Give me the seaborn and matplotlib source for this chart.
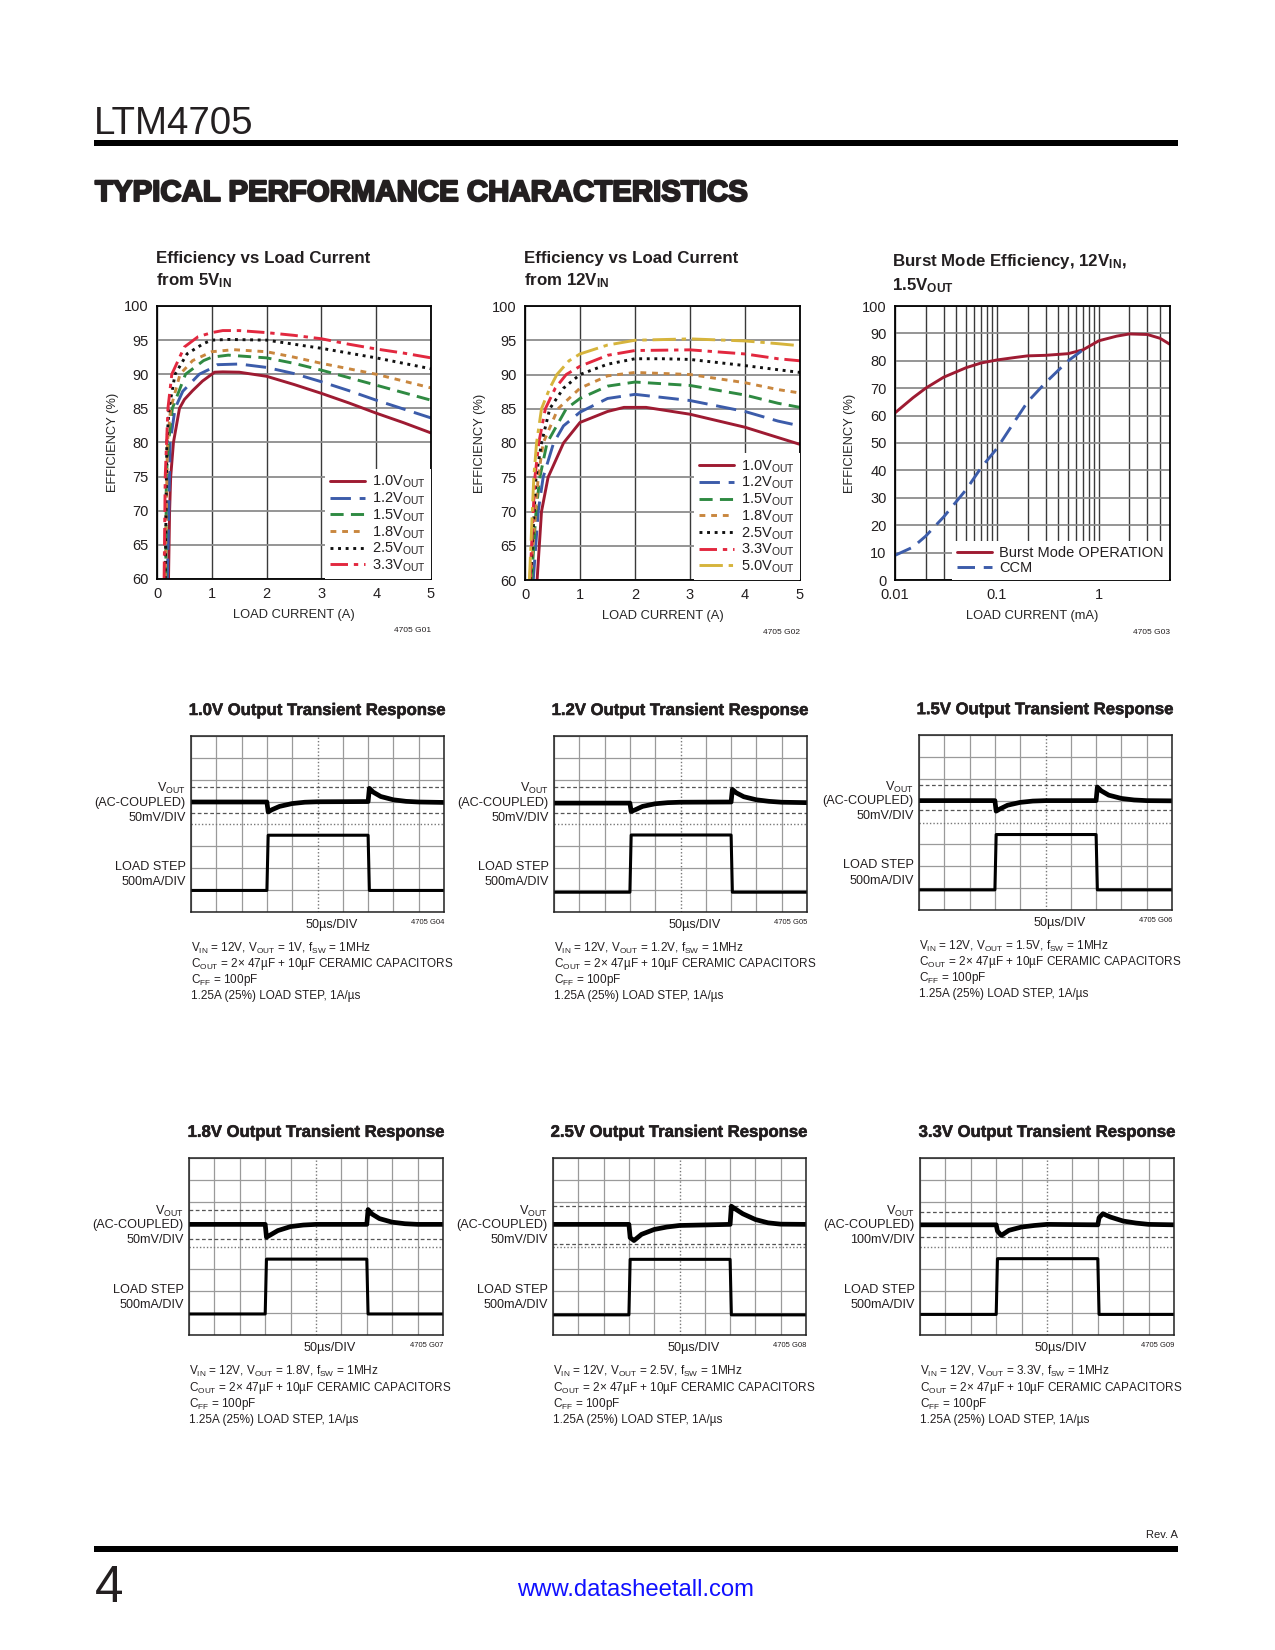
import matplotlib
matplotlib.use('Agg')
import matplotlib.pyplot as plt
import matplotlib.patheffects as pe
import seaborn as sns
from matplotlib import font_manager
from matplotlib.patches import Rectangle
from matplotlib.ticker import LogLocator, NullFormatter

# ---------------- data ----------------
# Efficiency vs load current, 5V in  (x = load current A, y = efficiency %)
e5_10_x = [0.21, 0.23, 0.25, 0.30, 0.41, 0.50, 0.65, 0.83, 1.0, 1.05, 1.2, 1.5, 2.0, 2.5, 3.0, 3.5, 4.0, 4.5, 5.0]
e5_10_y = [60, 70, 75, 80, 85, 86.3, 87.6, 89.0, 90.0, 90.3, 90.35, 90.3, 89.7, 88.5, 87.2, 85.8, 84.3, 82.9, 81.4]
e5_12_x = [0.19, 0.24, 0.33, 0.47, 0.77, 1.0, 1.1, 1.5, 2.0, 2.5, 3.0, 3.5, 4.0, 4.5, 5.0]
e5_12_y = [60, 80, 85, 87.5, 90, 90.9, 91.4, 91.5, 91.0, 90.1, 88.9, 87.6, 86.2, 84.9, 83.6]
e5_15_x = [0.16, 0.17, 0.21, 0.28, 0.52, 0.85, 1.0, 1.3, 2.0, 2.5, 3.0, 3.5, 4.0, 4.5, 5.0]
e5_15_y = [60, 75, 80, 85, 90, 92.0, 92.5, 92.8, 92.4, 91.6, 90.6, 89.5, 88.4, 87.3, 86.2]
e5_18_x = [0.15, 0.19, 0.25, 0.42, 0.65, 1.0, 1.4, 2.0, 2.5, 3.0, 3.5, 4.0, 4.5, 5.0]
e5_18_y = [60, 80, 85, 90, 92.0, 93.3, 93.6, 93.3, 92.5, 91.6, 90.8, 90.0, 89.0, 88.0]
e5_25_x = [0.15, 0.18, 0.22, 0.33, 0.55, 0.85, 1.0, 1.3, 2.0, 2.5, 3.0, 3.5, 4.0, 4.5, 5.0]
e5_25_y = [60, 80, 85, 90, 93.0, 94.5, 95.0, 95.1, 95.0, 94.4, 93.8, 93.1, 92.4, 91.6, 90.8]
e5_33_x = [0.13, 0.15, 0.20, 0.27, 0.50, 0.75, 1.0, 1.2, 1.5, 2.0, 2.5, 3.0, 3.5, 4.0, 4.5, 5.0]
e5_33_y = [60, 75, 85, 90, 94.0, 95.5, 96.1, 96.4, 96.4, 96.1, 95.7, 95.2, 94.4, 93.7, 93.1, 92.4]

# Efficiency vs load current, 12V in
e12_10_x = [0.22, 0.30, 0.42, 0.70, 0.95, 1.0, 1.5, 1.8, 2.2, 3.0, 4.0, 4.6, 5.0]
e12_10_y = [60, 70, 75, 80, 82.5, 83.0, 84.6, 85.2, 85.2, 84.2, 82.3, 80.8, 79.8]
e12_12_x = [0.15, 0.24, 0.33, 0.52, 0.70, 1.0, 1.5, 2.0, 3.0, 4.0, 4.6, 5.0]
e12_12_y = [60, 70, 75, 80, 82.5, 84.5, 86.5, 87.1, 86.2, 84.6, 83.2, 82.5]
e12_15_x = [0.12, 0.20, 0.27, 0.40, 0.75, 1.0, 1.5, 2.0, 3.0, 4.0, 4.6, 5.0]
e12_15_y = [60, 70, 75, 80, 85, 86.5, 88.3, 88.9, 88.4, 87.0, 85.8, 85.2]
e12_18_x = [0.10, 0.24, 0.33, 0.60, 1.0, 1.5, 2.0, 3.0, 4.0, 4.6, 5.0]
e12_18_y = [60, 75, 80, 85, 88.0, 89.8, 90.3, 90.0, 88.8, 87.8, 87.3]
e12_25_x = [0.10, 0.20, 0.30, 0.45, 0.70, 1.0, 1.5, 2.0, 2.5, 3.0, 4.0, 4.6, 5.0]
e12_25_y = [60, 75, 80, 85, 88.0, 90.0, 91.5, 92.3, 92.3, 92.2, 91.3, 90.7, 90.3]
e12_33_x = [0.09, 0.18, 0.25, 0.37, 0.55, 0.75, 1.0, 1.5, 2.0, 3.0, 4.0, 4.6, 5.0]
e12_33_y = [60, 75, 80, 85, 88.0, 90.0, 91.2, 92.8, 93.5, 93.6, 93.0, 92.3, 92.0]
e12_50_x = [0.08, 0.16, 0.21, 0.30, 0.45, 0.58, 0.80, 1.0, 1.5, 2.0, 3.0, 4.0, 4.6, 5.0]
e12_50_y = [60, 75, 80, 85, 88.0, 90.0, 92.0, 93.0, 94.3, 95.0, 95.2, 94.9, 94.5, 94.2]

eff_labels_5 = ['1.0', '1.2', '1.5', '1.8', '2.5', '3.3']
eff_labels_12 = ['1.0', '1.2', '1.5', '1.8', '2.5', '3.3', '5.0']

# Burst Mode efficiency, 12V in, 1.5V out (x = load current mA)
burst_x = [0.01, 0.015, 0.02, 0.03, 0.05, 0.07, 0.1, 0.15, 0.2, 0.3, 0.5, 0.7, 1.0, 1.5, 2.0, 3.0, 4.0, 5.0]
burst_y = [61, 66.5, 70, 74, 77.5, 79.2, 80.3, 81.2, 81.8, 82.0, 82.6, 84.0, 87.3, 89.0, 89.8, 89.6, 88.2, 86.0]
ccm_x = [0.01, 0.015, 0.02, 0.03, 0.05, 0.07, 0.1, 0.15, 0.2, 0.3, 0.5, 0.7]
ccm_y = [9, 12, 16, 23, 33, 41, 48, 58, 65, 72, 80, 84]

# Transient response scope traces (x, y in screen divisions: 10 x 8)
trace_t = [0, 3.0, 3.05, 3.2, 3.5, 4.0, 4.5, 5.0, 7.0, 7.05, 7.2, 7.5, 8.0, 8.5, 9.0, 10]
vout_10 = [5.0, 5.0, 4.55, 4.65, 4.80, 4.93, 4.99, 5.01, 5.02, 5.62, 5.45, 5.25, 5.10, 5.03, 5.00, 4.98]
vout_12 = [4.95, 4.95, 4.57, 4.64, 4.80, 4.92, 4.97, 4.99, 5.0, 5.57, 5.42, 5.24, 5.10, 5.03, 4.99, 4.97]
vout_15 = [5.0, 5.0, 4.52, 4.62, 4.79, 4.92, 4.98, 5.0, 5.0, 5.62, 5.45, 5.25, 5.10, 5.03, 5.0, 4.99]
vout_18 = [5.0, 5.0, 4.42, 4.52, 4.72, 4.90, 4.97, 5.0, 5.0, 5.67, 5.47, 5.26, 5.10, 5.03, 5.0, 5.0]
vout_25 = [5.0, 5.0, 4.40, 4.27, 4.55, 4.77, 4.88, 4.95, 5.0, 5.82, 5.70, 5.48, 5.22, 5.07, 5.01, 5.0]
vout_33 = [4.98, 4.98, 4.70, 4.50, 4.73, 4.88, 4.95, 5.0, 4.98, 5.30, 5.48, 5.33, 5.15, 5.06, 5.0, 4.98]
load_t = [0, 3.0, 3.05, 7.0, 7.05, 10]
load_10 = [0.98, 0.98, 3.49, 3.49, 0.98, 0.98]
load_12 = [0.90, 0.90, 3.50, 3.50, 0.90, 0.90]
load_15 = [0.92, 0.92, 3.45, 3.45, 0.92, 0.92]
load_18 = [0.95, 0.95, 3.43, 3.43, 0.95, 0.95]
load_25 = [0.91, 0.91, 3.42, 3.42, 0.91, 0.91]
load_33 = [0.93, 0.93, 3.45, 3.45, 0.93, 0.93]
cursor_hi = [5.66, 5.67, 5.70, 5.67, 5.85, 5.57]
cursor_lo = [4.51, 4.48, 4.55, 4.35, 4.13, 4.43]
tr_vout = ['1.0V', '1.2V', '1.5V', '1.8V', '2.5V', '3.3V']
tr_vcap = ['1V', '1.2V', '1.5V', '1.8V', '2.5V', '3.3V']
tr_scale = ['50mV/DIV', '50mV/DIV', '50mV/DIV', '50mV/DIV', '50mV/DIV', '100mV/DIV']
tr_code = ['4705 G04', '4705 G05', '4705 G06', '4705 G07', '4705 G08', '4705 G09']

# ---------------- style ----------------
names = {f.name for f in font_manager.fontManager.ttflist}
NARROW = 'Liberation Sans Narrow' if 'Liberation Sans Narrow' in names else 'Liberation Sans'
K = 1.0 if NARROW == 'Liberation Sans Narrow' else 0.84

sns.set_style('white')
plt.rcParams['font.family'] = [NARROW, 'DejaVu Sans']
plt.rcParams['mathtext.fontset'] = 'custom'
plt.rcParams['mathtext.rm'] = NARROW
plt.rcParams['mathtext.bf'] = NARROW + ':bold'
plt.rcParams['mathtext.it'] = NARROW + ':italic'
plt.rcParams['text.color'] = '#231f20'

W, H = 1275, 1650
fig = plt.figure(figsize=(W / 100, H / 100), dpi=100)
heavy = [pe.withStroke(linewidth=1.5, foreground='#231f20')]
semi = [pe.withStroke(linewidth=0.4, foreground='#231f20')]


def px_axes(l, t, r, b):
    return fig.add_axes([l / W, 1 - b / H, (r - l) / W, (b - t) / H])


def ftext(x, y, s, **kw):
    fig.text(x / W, 1 - y / H, s, **kw)


def frule(x0, x1, y0, y1):
    fig.add_artist(Rectangle((x0 / W, 1 - y1 / H), (x1 - x0) / W, (y1 - y0) / H,
                             transform=fig.transFigure, color='black', lw=0))


# header / footer
ftext(94, 134, 'LTM4705', fontsize=33 * K, va='baseline', fontweight='light')
frule(94, 1178, 140, 146)
ftext(95, 201, 'TYPICAL PERFORMANCE CHARACTERISTICS', fontsize=25.2 * K, va='baseline',
      fontweight='bold', path_effects=heavy)
ftext(1178, 1538, 'Rev. A', fontsize=9.5 * K, ha='right', va='baseline')
frule(94, 1178, 1546, 1552)
ftext(95, 1602, '4', fontsize=44 * K, va='baseline', fontweight='light')
ftext(636, 1590, 'www.datasheetall.com', fontsize=20.5 * K, ha='center', va='center', color='#1010ff')

col_10 = '#9e1b32'
col_12 = '#3c5caa'
col_15 = '#2f8a42'
col_18 = '#c9873f'
col_25 = '#111111'
col_33 = '#e2283f'
col_50 = '#d6b43c'
eff_colors = [col_10, col_12, col_15, col_18, col_25, col_33, col_50]
eff_styles = ['-', (0, (7, 3)), (0, (4.5, 2.5)), (0, (2, 2)), (0, (1, 1.6)),
              (0, (6, 2, 1.5, 2)), (0, (8, 2, 1.5, 2))]


def style_eff(ax):
    ax.set_axisbelow(True)
    ax.grid(True, axis='x', which='both', color='#3a3a3a', lw=1.0)
    ax.grid(True, axis='y', color='#8c8c8c', lw=1.3)
    ax.tick_params(length=0, labelsize=12.5 * K, pad=6, colors='#231f20')
    for sp in ax.spines.values():
        sp.set_color('black')
        sp.set_linewidth(1.3)
    ax.set_ylabel('EFFICIENCY (%)', fontsize=11 * K)
    ax.yaxis.set_label_coords(-0.14, 0.5)


def eff_chart(ax, series, labels, code):
    for (x, y), c, ls in zip(series, eff_colors, eff_styles):
        sns.lineplot(x=x, y=y, ax=ax, color=c, linestyle=ls, lw=2.1, sort=False)
    ax.set_xlim(0, 5)
    ax.set_ylim(60, 100)
    ax.set_xticks(range(6))
    ax.set_yticks(range(60, 101, 5))
    style_eff(ax)
    ax.set_xlabel('LOAD CURRENT (A)', fontsize=11 * K)
    ax.xaxis.set_label_coords(0.5, -0.11)
    ax.legend(ax.lines, [v + r'$\mathrm{V_{OUT}}$' for v in labels], loc='lower right',
              bbox_to_anchor=(1.0, 0.0), borderaxespad=0, fontsize=12.5 * K,
              handlelength=2.4, handletextpad=0.5, labelspacing=0.02, borderpad=0.35,
              frameon=True, framealpha=1, edgecolor='none', facecolor='white', fancybox=False)
    ax.text(1.0, -0.19, code, transform=ax.transAxes, fontsize=6, ha='right', va='center')


ax1 = px_axes(157, 306, 431, 579)
eff_chart(ax1, [(e5_10_x, e5_10_y), (e5_12_x, e5_12_y), (e5_15_x, e5_15_y), (e5_18_x, e5_18_y),
                (e5_25_x, e5_25_y), (e5_33_x, e5_33_y)], eff_labels_5, '4705 G01')
tkw = dict(fontsize=14.5 * K, fontweight='bold', va='baseline')
ftext(156, 263, 'Efficiency vs Load Current', **tkw)
ftext(156, 285, r'from 5$\mathbf{V_{IN}}$', **tkw)

ax2 = px_axes(525, 306, 800, 580)
eff_chart(ax2, [(e12_10_x, e12_10_y), (e12_12_x, e12_12_y), (e12_15_x, e12_15_y), (e12_18_x, e12_18_y),
                (e12_25_x, e12_25_y), (e12_33_x, e12_33_y), (e12_50_x, e12_50_y)],
          eff_labels_12, '4705 G02')
ftext(524, 263, 'Efficiency vs Load Current', **tkw)
ftext(524, 285, r'from 12$\mathbf{V_{IN}}$', **tkw)

ax3 = px_axes(895, 306, 1170, 580)
sns.lineplot(x=burst_x, y=burst_y, ax=ax3, color=col_10, lw=2.1, sort=False)
sns.lineplot(x=ccm_x, y=ccm_y, ax=ax3, color=col_12, lw=2.1, linestyle=(0, (6, 3)), sort=False)
ax3.set_xscale('log')
ax3.set_xlim(0.01, 5)
ax3.set_ylim(0, 100)
ax3.set_yticks(range(0, 101, 10))
ax3.set_xticks([0.01, 0.1, 1])
ax3.set_xticklabels(['0.01', '0.1', '1'])
ax3.xaxis.set_minor_locator(LogLocator(base=10, subs=range(2, 10)))
ax3.xaxis.set_minor_formatter(NullFormatter())
style_eff(ax3)
ax3.tick_params(which='minor', length=0)
ax3.set_xlabel('LOAD CURRENT (mA)', fontsize=11 * K)
ax3.xaxis.set_label_coords(0.5, -0.11)
ax3.legend(ax3.lines, ['Burst Mode OPERATION', 'CCM'], loc='lower right', bbox_to_anchor=(0.995, 0.0),
           borderaxespad=0, fontsize=12.5 * K, handlelength=2.4, handletextpad=0.5, labelspacing=0.05,
           borderpad=0.35, frameon=True, framealpha=1, edgecolor='none', facecolor='white', fancybox=False)
ax3.text(1.0, -0.19, '4705 G03', transform=ax3.transAxes, fontsize=6, ha='right', va='center')
ftext(892, 266, r'Burst Mode Efficiency, 12$\mathbf{V_{IN}}$,', **tkw)
ftext(892, 290, r'1.5$\mathbf{V_{OUT}}$', **tkw)

# ---------------- transient scope panels ----------------
boxes = [(191, 736, 444, 912), (554, 736, 807, 912), (919, 735, 1172, 910),
         (189, 1158, 443, 1335), (553, 1158, 806, 1335), (920, 1158, 1174, 1335)]
vouts = [vout_10, vout_12, vout_15, vout_18, vout_25, vout_33]
loads = [load_10, load_12, load_15, load_18, load_25, load_33]

for i, (l, t, r, b) in enumerate(boxes):
    ax = px_axes(l, t, r, b)
    ax.set_xlim(0, 10)
    ax.set_ylim(0, 8)
    ax.set_xticks([0, 1, 2, 3, 4, 6, 7, 8, 9, 10])
    ax.set_yticks([0, 1, 2, 3, 5, 6, 7, 8])
    ax.set_axisbelow(True)
    ax.grid(True, color='#9a9a9a', lw=0.9)
    ax.axvline(5, color='#777777', lw=1.0, ls=(0, (1, 1.5)), zorder=1)
    ax.axhline(4, color='#777777', lw=1.0, ls=(0, (1, 1.5)), zorder=1)
    ax.axhline(cursor_hi[i], color='#555555', lw=0.9, ls=(0, (3, 2)), zorder=1)
    ax.axhline(cursor_lo[i], color='#555555', lw=0.9, ls=(0, (3, 2)), zorder=1)
    ax.tick_params(length=0, labelbottom=False, labelleft=False)
    for sp in ax.spines.values():
        sp.set_color('#222222')
        sp.set_linewidth(1.1)
    sns.lineplot(x=trace_t, y=vouts[i], ax=ax, color='black', lw=3.4, sort=False)
    sns.lineplot(x=load_t, y=loads[i], ax=ax, color='black', lw=2.2, sort=False)
    ax.set_xlabel('')
    ax.set_ylabel('')
    tr = ax.transAxes
    fs = 10.8 * K
    ax.text(1.0, 1.145, tr_vout[i] + ' Output Transient Response', transform=tr, ha='right', va='center',
            fontsize=14.3 * K, fontweight='bold', path_effects=semi)
    ax.text(-0.02, 0.70, r'$\mathrm{V_{OUT}}$', transform=tr, ha='right', va='center', fontsize=fs)
    ax.text(-0.02, 0.622, '(AC-COUPLED)', transform=tr, ha='right', va='center', fontsize=fs)
    ax.text(-0.02, 0.535, tr_scale[i], transform=tr, ha='right', va='center', fontsize=fs)
    ax.text(-0.02, 0.255, 'LOAD STEP', transform=tr, ha='right', va='center', fontsize=fs)
    ax.text(-0.02, 0.168, '500mA/DIV', transform=tr, ha='right', va='center', fontsize=fs)
    ax.text(0.555, -0.075, '50µs/DIV', transform=tr, ha='center', va='center', fontsize=fs)
    ax.text(1.0, -0.062, tr_code[i], transform=tr, ha='right', va='center', fontsize=5.5)
    caps = [r'$\mathrm{V_{IN}}$ = 12V, $\mathrm{V_{OUT}}$ = ' + tr_vcap[i] + r', $\mathrm{f_{SW}}$ = 1MHz',
            r'$\mathrm{C_{OUT}}$ = 2× 47µF + 10µF CERAMIC CAPACITORS',
            r'$\mathrm{C_{FF}}$ = 100pF',
            '1.25A (25%) LOAD STEP, 1A/µs']
    for j, c in enumerate(caps):
        ax.text(0.0, -0.208 - 0.09 * j, c, transform=tr, ha='left', va='center', fontsize=10.1 * K)

fig.savefig('out.png', dpi=100)
